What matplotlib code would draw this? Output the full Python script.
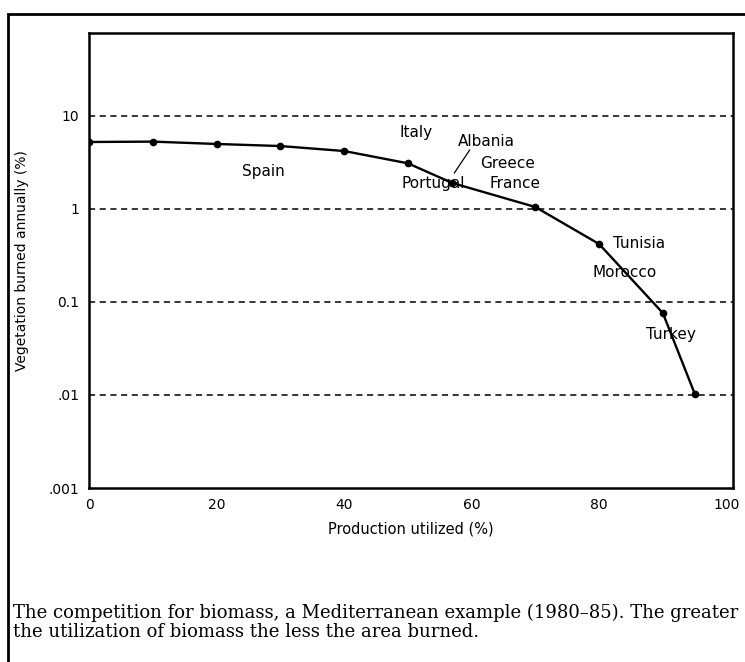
"""Biomass competition chart: area burned versus production utilized."""

import matplotlib

matplotlib.use("Agg")
import matplotlib.pyplot as plt
from matplotlib.patches import Rectangle

# Curve points: production utilized (%) and vegetation burned annually (%)
utilized = [0, 10, 20, 30, 40, 50, 57, 70, 80, 90, 95]
burned = [5.25, 5.3, 5.0, 4.75, 4.2, 3.1, 1.9, 1.05, 0.42, 0.076, 0.0103]

# Country labels and where they sit (left edge, vertical centre)
countries = ["Italy", "Albania", "Greece", "France", "Portugal", "Spain",
             "Tunisia", "Morocco", "Turkey"]
label_x = [48.7, 57.8, 61.4, 62.8, 49.0, 24.0, 82.2, 78.9, 87.3]
label_y = [6.7, 5.25, 3.05, 1.86, 1.86, 2.5, 0.43, 0.21, 0.045]

y_ticks = [0.001, 0.01, 0.1, 1, 10]
y_tick_labels = [".001", ".01", "0.1", "1", "10"]
x_ticks = [0, 20, 40, 60, 80, 100]

caption_lines = [
    "The competition for biomass, a Mediterranean example (1980\u201385). The greater",
    "the utilization of biomass the less the area burned.",
]

plt.rcParams.update({"font.family": ["DejaVu Sans"]})

fig = plt.figure(figsize=(7.45, 6.62), dpi=100)
ax = fig.add_axes([89 / 745, 1 - 488 / 662, (733 - 89) / 745, (488 - 33) / 662])

ax.set_yscale("log")
ax.set_ylim(0.001, 78)
ax.set_xlim(0, 101)

for yv in [0.01, 0.1, 1, 10]:
    ax.axhline(yv, color="black", ls=(0, (4, 3)), lw=1.1, zorder=1)

ax.plot(utilized, burned, color="black", lw=1.7, marker="o", ms=4.5, zorder=3)

for name, lx, ly in zip(countries, label_x, label_y):
    ax.text(lx, ly, name, fontsize=11, ha="left", va="center", color="black", zorder=4)

# Leader line from the Albania label down to the curve
ax.plot([59.7, 57.3], [4.3, 2.44], color="black", lw=0.9, zorder=4)

ax.set_yticks(y_ticks)
ax.set_yticklabels(y_tick_labels)
ax.yaxis.set_minor_locator(matplotlib.ticker.NullLocator())
ax.set_xticks(x_ticks)
ax.tick_params(axis="both", length=0, labelsize=10)
ax.tick_params(axis="y", pad=7)
ax.tick_params(axis="x", pad=7)
for sp in ax.spines.values():
    sp.set_linewidth(1.8)

ax.set_xlabel("Production utilized (%)", fontsize=10.5, labelpad=7)
ax.set_ylabel("Vegetation burned annually (%)", fontsize=10, labelpad=14)

# Caption in a serif face below the plot, one text per line
for i, line in enumerate(caption_lines):
    fig.text(13 / 745, 1 - (613 + 19 * i) / 662, line, fontsize=13, va="center",
             ha="left", family=["DejaVu Serif"])

# Outer frame around the figure panel
fig.patches.append(Rectangle((8 / 745, -0.05), 1.0, 1 - 14 / 662 + 0.05,
                             transform=fig.transFigure, fill=False,
                             edgecolor="black", lw=2.0))

fig.savefig("out.png", dpi=100)
